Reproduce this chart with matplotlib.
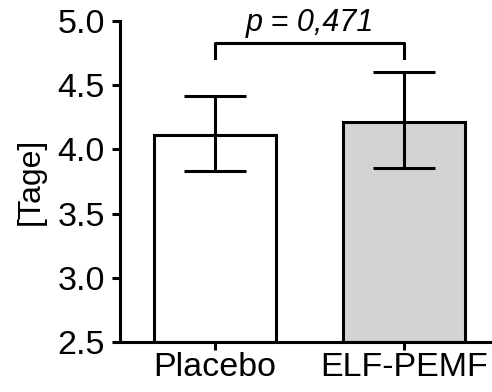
import matplotlib
matplotlib.use("Agg")
import matplotlib.pyplot as plt
import numpy as np

plt.rcParams['font.family'] = ['Liberation Sans', 'DejaVu Sans']

groups = ['Placebo', 'ELF-PEMF']
means = [4.115, 4.215]
err_low = [3.835, 3.855]
err_high = [4.415, 4.605]
colors = ['white', '#d3d3d3']
p_text = 'p = 0,471'

lw = 2.2
fig = plt.figure(figsize=(4.92, 3.92), dpi=100)
ax = fig.add_axes([0.244, 0.128, 0.756, 0.818])

x = np.arange(len(groups))
m = np.array(means)
yerr = [m - np.array(err_low), np.array(err_high) - m]
ax.bar(x, m - 2.5, bottom=2.5, width=0.65, color=colors, edgecolor='black',
       linewidth=lw, zorder=2)
ax.errorbar(x, m, yerr=yerr, fmt='none', ecolor='black', elinewidth=lw,
            capsize=22, capthick=lw, zorder=3)

# significance bracket
ax.plot([0, 0, 1, 1], [4.71, 4.83, 4.83, 4.71], color='black', lw=lw,
        clip_on=False)
ax.text(0.5, 4.92, p_text, ha='center', va='baseline', fontsize=22,
        style='italic')

ax.set_ylim(2.5, 5.0)
ax.set_xlim(-0.503, 1.466)
ax.set_yticks([2.5, 3.0, 3.5, 4.0, 4.5, 5.0])
ax.set_yticklabels(['2.5', '3.0', '3.5', '4.0', '4.5', '5.0'])
ax.set_xticks(x)
ax.set_xticklabels(groups)
ax.set_ylabel('[Tage]', fontsize=23, labelpad=8)
ax.tick_params(axis='both', labelsize=24.5, width=lw, length=6, direction='out')
ax.tick_params(axis='y', pad=5)
ax.tick_params(axis='x', pad=1)
ax.spines['top'].set_visible(False)
ax.spines['right'].set_visible(False)
ax.spines['left'].set_linewidth(lw)
ax.spines['bottom'].set_linewidth(lw)

fig.savefig('out.png', dpi=100)
